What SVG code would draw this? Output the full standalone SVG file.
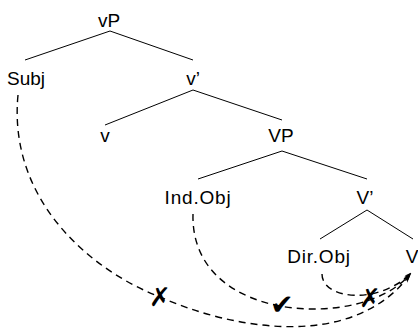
<svg xmlns="http://www.w3.org/2000/svg" width="418" height="330" viewBox="0 0 418 330">
<defs>
<style>
text{font-family:"Liberation Sans",Arial,sans-serif;font-size:19px;fill:#000;text-anchor:middle}
.e{stroke:#000;stroke-width:1;fill:none}
.d{stroke:#000;stroke-width:1.4;fill:none;stroke-dasharray:7 5}
.m{font-family:"DejaVu Sans",sans-serif;font-size:26px;dominant-baseline:central;font-weight:bold}
</style>
<marker id="ah" viewBox="0 0 10 10" refX="9" refY="5" markerWidth="7" markerHeight="7" markerUnits="userSpaceOnUse" orient="auto">
<path d="M0,1 L10,5 L0,9 L3,5 Z" fill="#000"/>
</marker>
</defs>
<rect width="418" height="330" fill="#fff"/>
<g id="edges">
<line class="e" x1="110" y1="31" x2="25" y2="60"/>
<line class="e" x1="110" y1="31" x2="193" y2="60"/>
<line class="e" x1="193" y1="90" x2="105" y2="125"/>
<line class="e" x1="193" y1="90" x2="282" y2="120"/>
<line class="e" x1="282" y1="151" x2="198" y2="179"/>
<line class="e" x1="282" y1="151" x2="367" y2="179"/>
<line class="e" x1="367" y1="210" x2="320" y2="239"/>
<line class="e" x1="367" y1="210" x2="413" y2="239"/>
</g>
<g id="connectors">
<path class="d" d="M18,95 C8,200 90,270 160,297 C230,328 350,352 409,276" marker-end="url(#ah)"/>
<path class="d" d="M193,214 C190,325 365,330 410,274" marker-end="url(#ah)"/>
<path class="d" d="M322,274 C322,300 380,305 411,273" marker-end="url(#ah)"/>
</g>
<g id="marks">
<text class="m" x="160" y="297">✗</text>
<text class="m" x="282" y="304" style="font-size:28px">✔</text>
<text class="m" x="370" y="298">✗</text>
</g>
<g id="vP"><text x="109" y="27">vP</text></g>
<g id="Subj"><text x="26" y="85">Subj</text></g>
<g id="v1"><text x="193" y="85">v’</text></g>
<g id="v"><text x="105" y="142">v</text></g>
<g id="VP"><text x="281" y="142">VP</text></g>
<g id="IndObj"><text x="198" y="204" style="letter-spacing:0.8px">Ind.Obj</text></g>
<g id="V1"><text x="365" y="204">V’</text></g>
<g id="DirObj"><text x="319" y="263" style="letter-spacing:0.8px">Dir.Obj</text></g>
<g id="V"><text x="412" y="263">V</text></g>
</svg>
